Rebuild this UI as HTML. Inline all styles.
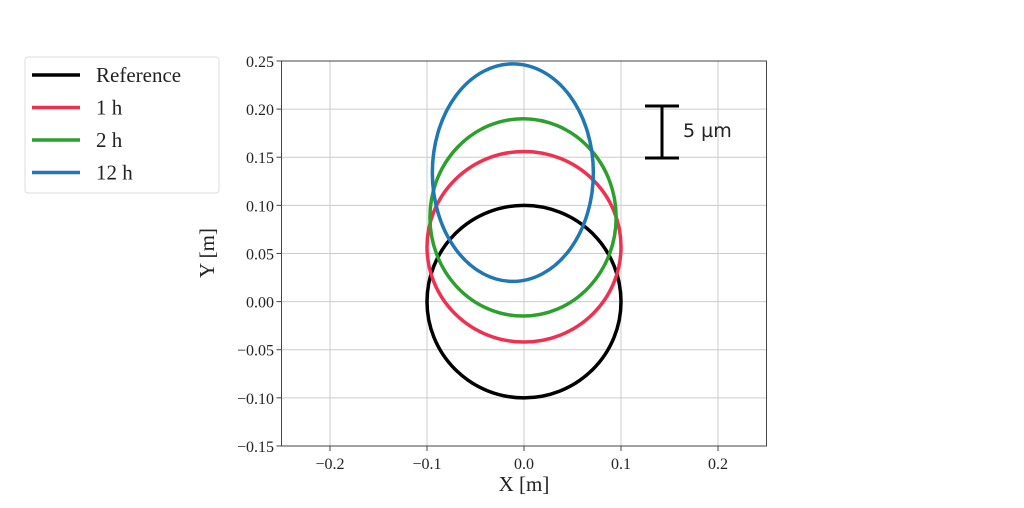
<!DOCTYPE html>
<html><head><meta charset="utf-8"><style>
body{margin:0;background:#fff;width:1024px;height:503px;overflow:hidden}
svg text{font-family:"Liberation Serif",serif;fill:#222}
</style></head><body>
<svg id="chart" width="1024" height="503" viewBox="0 0 1024 503" xmlns="http://www.w3.org/2000/svg">
<g id="grid"></g>
<g id="series"></g>
<rect x="281.5" y="61" width="485" height="385" fill="none" stroke="#444" stroke-width="1"/>
<g id="ticks"></g>
<text x="524" y="491" font-size="21" text-anchor="middle">X [m]</text>
<text transform="translate(214,253) rotate(-90)" font-size="21" text-anchor="middle">Y [m]</text>
<g stroke="#000" stroke-width="3">
<line x1="662" y1="106" x2="662" y2="158"/><line x1="645" y1="106" x2="679" y2="106"/><line x1="645" y1="158" x2="679" y2="158"/>
</g>
<text x="683" y="137" font-size="19" style="font-family:'DejaVu Sans',sans-serif">5 µm</text>
<g>
<rect x="25" y="57" width="194" height="136" rx="3" fill="#fff" stroke="#ddd"/>
</g>
<g id="legend-items"></g>
</svg>
<script>
const seriesNames=["Reference","1 h","2 h","12 h"];
const seriesColors=["#000000","#f0304f","#2ca02c","#1f77b4"];
const centerX=[0,0,-0.001,-0.0115];
const centerY=[0,0.057,0.0875,0.134];
const radiusX=[0.1,0.1,0.096,0.083];
const radiusY=[0.1,0.099,0.1025,0.113];
const xTicks=[-0.2,-0.1,0.0,0.1,0.2];
const xTickLabels=["−0.2","−0.1","0.0","0.1","0.2"];
const yTicks=[-0.15,-0.10,-0.05,0,0.05,0.10,0.15,0.20,0.25];
const yTickLabels=["−0.15","−0.10","−0.05","0.00","0.05","0.10","0.15","0.20","0.25"];
const NS="http://www.w3.org/2000/svg";
const X=v=>524+v*970, Y=v=>301.6-v*962.5;
function mk(t,a,p){const e=document.createElementNS(NS,t);for(const k in a)e.setAttribute(k,a[k]);p.appendChild(e);return e;}
const grid=document.getElementById('grid'),ticks=document.getElementById('ticks'),ser=document.getElementById('series'),leg=document.getElementById('legend-items');
xTicks.forEach((v,i)=>{
 const g=mk('line',{x1:X(v),x2:X(v),y1:61,y2:446,stroke:'#ccc','stroke-width':1},grid);
 
 
 mk('line',{x1:X(v),x2:X(v),y1:446,y2:451,stroke:'#444'},ticks);
 const t=mk('text',{x:X(v),y:469,'font-size':16,'text-anchor':'middle'},ticks);t.textContent=xTickLabels[i];
 
 
});
yTicks.forEach((v,i)=>{
 const g=mk('line',{x1:281.5,x2:766.5,y1:Y(v),y2:Y(v),stroke:'#ccc','stroke-width':1},grid);
 
 
 mk('line',{x1:276.5,x2:281.5,y1:Y(v),y2:Y(v),stroke:'#444'},ticks);
 const t=mk('text',{x:274,y:Y(v)+6,'font-size':16,'text-anchor':'end'},ticks);t.textContent=yTickLabels[i];
 
 
});
seriesNames.forEach((n,i)=>{
 const e=mk('ellipse',{cx:X(centerX[i]),cy:Y(centerY[i]),rx:radiusX[i]*970,ry:radiusY[i]*962.5,fill:'none',stroke:seriesColors[i],'stroke-width':3.5},ser);
 
 
 const y=75+i*32.5;
 const l=mk('line',{x1:32,x2:80,y1:y,y2:y,stroke:seriesColors[i],'stroke-width':3.5},leg);
 
 
 const t=mk('text',{x:96,y:y+7,'font-size':21},leg);t.textContent=n;
 
 
});
</script>
</body></html>
